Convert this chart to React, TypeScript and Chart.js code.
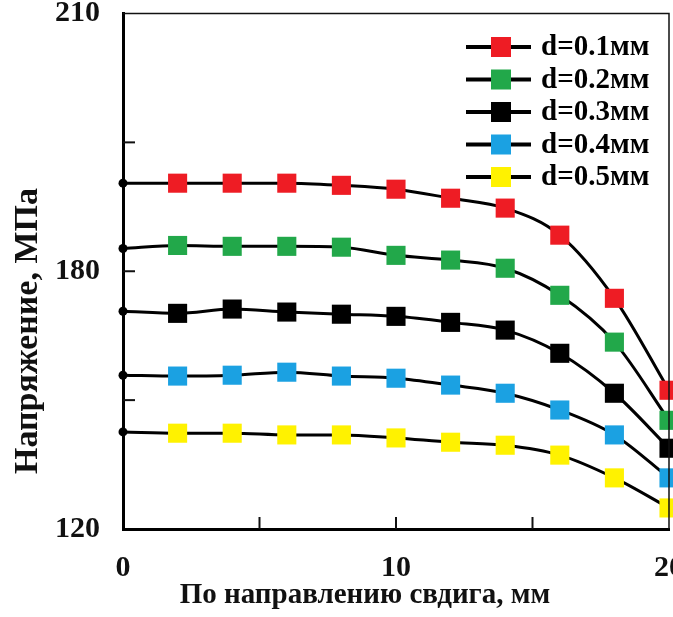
import React, { useEffect, useRef } from "react";
import { Chart, registerables } from "chart.js";

Chart.register(...registerables);

const xValues = [0, 2, 4, 6, 8, 10, 12, 14, 16, 18, 20];
const seriesLabels = ["d=0.1мм", "d=0.2мм", "d=0.3мм", "d=0.4мм", "d=0.5мм"];
const seriesColors = ["#ee1c24", "#22a84a", "#000000", "#1ba1e2", "#fff200"];
const d01 = [200.5, 200.5, 200.5, 200.5, 200.0, 199.1, 197.0, 194.7, 188.4, 173.7, 152.3];
const d02 = [185.3, 186.0, 185.8, 185.8, 185.6, 183.7, 182.6, 180.7, 174.4, 163.5, 145.3];
const d03 = [170.7, 170.2, 171.2, 170.5, 170.0, 169.5, 168.1, 166.3, 160.9, 151.6, 138.8];
const d04 = [155.8, 155.6, 155.8, 156.5, 155.6, 155.1, 153.5, 151.6, 147.7, 141.9, 131.9];
const d05 = [142.6, 142.3, 142.3, 141.9, 141.9, 141.2, 140.2, 139.5, 137.2, 131.9, 124.9];
const seriesValues = [d01, d02, d03, d04, d05];
const xTickLabels = ["0", "", "10", "", "20"];
const yTickLabels = ["120", "", "180", "", "210"];
const xTitle = "По направлению свдига, мм";
const yTitle = "Напряжение, МПа";

const FONT = "'Liberation Serif', 'Times New Roman', serif";

const framePlugin = {
  id: "frame",
  afterDatasetsDraw(chart: any) {
    const { ctx, chartArea } = chart;
    const xs = chart.scales.x;
    const ys = chart.scales.y;
    ctx.save();
    ctx.strokeStyle = "#111";
    ctx.lineWidth = 1.5;
    ctx.beginPath();
    ctx.moveTo(chartArea.left, chartArea.top);
    ctx.lineTo(chartArea.right, chartArea.top);
    ctx.lineTo(chartArea.right, chartArea.bottom);
    ctx.stroke();
    ctx.lineWidth = 2;
    [5, 10, 15].forEach((v) => {
      const px = xs.getPixelForValue(v);
      ctx.beginPath();
      ctx.moveTo(px, chartArea.bottom);
      ctx.lineTo(px, chartArea.bottom - 12);
      ctx.stroke();
    });
    [150, 180, 210].forEach((v) => {
      const py = ys.getPixelForValue(v);
      ctx.beginPath();
      ctx.moveTo(chartArea.left, py);
      ctx.lineTo(chartArea.left + 12, py);
      ctx.stroke();
    });
    // legend
    const rowY0 = 47;
    const rowDy = 32.5;
    seriesLabels.forEach((lab, i) => {
      const y = rowY0 + i * rowDy;
      ctx.strokeStyle = "#000";
      ctx.lineWidth = 4;
      ctx.beginPath();
      ctx.moveTo(466, y);
      ctx.lineTo(531, y);
      ctx.stroke();
      ctx.fillStyle = seriesColors[i];
      ctx.fillRect(491, y - 10, 20, 20);
      ctx.fillStyle = "#000";
      ctx.font = `bold 29px ${FONT}`;
      ctx.textBaseline = "middle";
      ctx.textAlign = "left";
      ctx.fillText(lab, 541, y + 1);
    });
    // axis titles
    ctx.fillStyle = "#111";
    ctx.textAlign = "center";
    ctx.textBaseline = "middle";
    ctx.font = `bold 29px ${FONT}`;
    ctx.fillText(xTitle, 365, 596);
    ctx.translate(28, 331);
    ctx.rotate(-Math.PI / 2);
    ctx.font = `bold 34px ${FONT}`;
    ctx.fillText(yTitle, 0, 0);
    ctx.restore();
  },
};

export default function App() {
  const ref = useRef<HTMLCanvasElement | null>(null);
  useEffect(() => {
    if (!ref.current) return;
    const datasets = seriesValues.map((vals, i) => ({
      label: seriesLabels[i],
      data: xValues.map((x, j) => ({ x, y: vals[j] })),
      borderColor: "#000",
      borderWidth: 3,
      cubicInterpolationMode: "monotone" as const,
      pointStyle: xValues.map((_, j) => (j === 0 ? "circle" : "rect")),
      pointRadius: xValues.map((_, j) => (j === 0 ? 4.5 : 13.5)),
      pointBackgroundColor: xValues.map((_, j) => (j === 0 ? "#000" : seriesColors[i])),
      pointBorderWidth: 0,
      clip: false as any,
    }));
    const chart = new Chart(ref.current, {
      type: "line",
      data: { datasets },
      plugins: [framePlugin],
      options: {
        responsive: false,
        animation: false,
        layout: { padding: { top: 13, right: 31, left: 0, bottom: 0 } },
        plugins: { legend: { display: false }, tooltip: { enabled: false } },
        scales: {
          x: {
            type: "linear",
            min: 0,
            max: 20,
            border: { display: true, color: "#000", width: 3 },
            grid: { display: false, drawTicks: false },
            ticks: {
              stepSize: 5,
              color: "#111",
              padding: 21,
              maxRotation: 0,
              autoSkip: false,
              font: { family: FONT, size: 30, weight: "bold" },
              callback: (v: any) => {
                const idx = Math.round(Number(v) / 5);
                return xTickLabels[idx] ?? "";
              },
            },
            afterFit: (scale: any) => {
              scale.height = 88;
              scale.paddingLeft = 0;
              scale.paddingRight = 0;
            },
          },
          y: {
            type: "linear",
            min: 120,
            max: 240,
            border: { display: true, color: "#000", width: 3 },
            grid: { display: false, drawTicks: false },
            ticks: {
              stepSize: 30,
              color: "#111",
              padding: 23,
              autoSkip: false,
              font: { family: FONT, size: 30, weight: "bold" },
              callback: (v: any) => {
                const idx = Math.round((Number(v) - 120) / 30);
                return yTickLabels[idx] ?? "";
              },
            },
            afterFit: (scale: any) => {
              scale.width = 123;
              scale.paddingTop = 0;
              scale.paddingBottom = 0;
            },
          },
        },
      },
    });
    return () => chart.destroy();
  }, []);
  return (
    <div style={{ position: "fixed", left: 0, top: 0, width: 673, height: 617, overflow: "hidden", background: "#fff" }}>
      <canvas ref={ref} width={700} height={617} style={{ width: 700, height: 617 }} />
    </div>
  );
}
